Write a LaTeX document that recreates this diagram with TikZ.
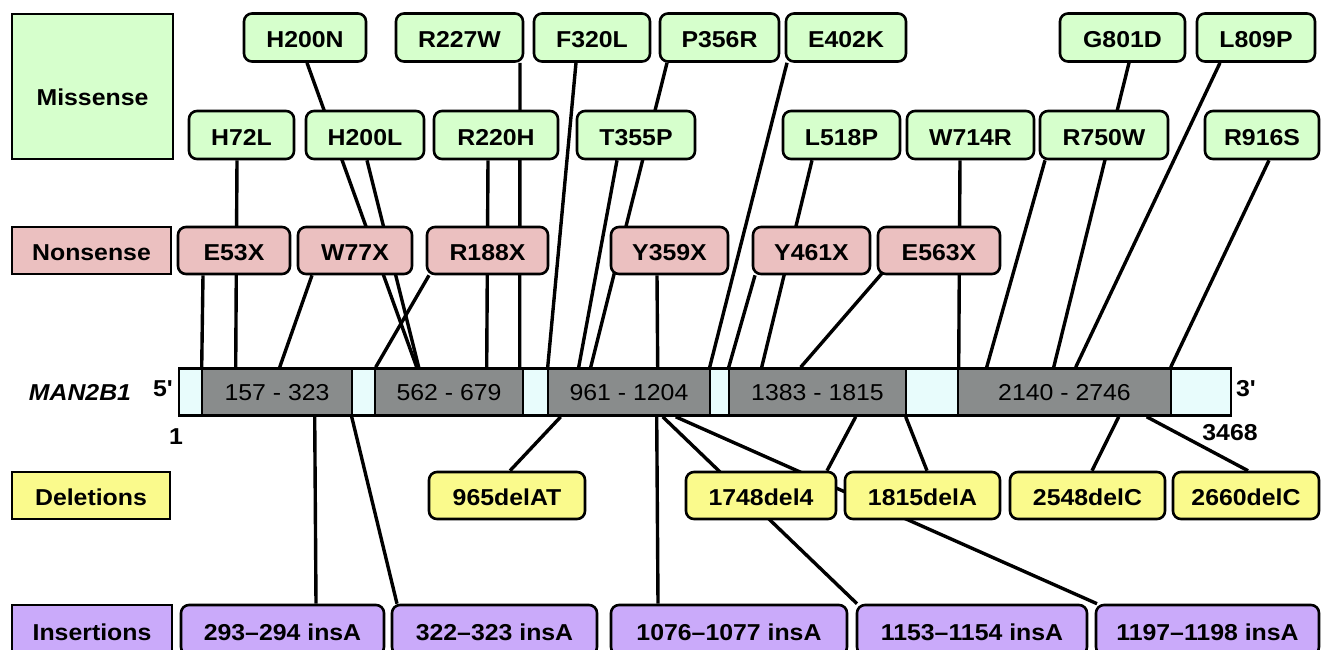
\documentclass[tikz,border=0pt]{standalone}
\usepackage{fontspec}
\newfontfamily\labfont{Liberation Sans}[FakeStretch=1.08]
\usetikzlibrary{backgrounds}
\definecolor{misc}{RGB}{214,255,204}
\definecolor{nonc}{RGB}{235,192,192}
\definecolor{delc}{RGB}{250,250,140}
\definecolor{insc}{RGB}{202,170,250}
\definecolor{exonc}{RGB}{137,140,140}
\definecolor{utrc}{RGB}{232,252,252}
\begin{document}
\begin{tikzpicture}[x=1pt,y=-1pt,
  every node/.style={font=\labfont\fontsize{23pt}{27pt}\selectfont\bfseries, inner sep=0pt},
  box/.style={draw, line width=2.6pt, rounded corners=8pt, text height=20pt, text depth=0pt},
  catbox/.style={draw, line width=2.6pt, text height=20pt, text depth=0pt},
  mis/.style={box, fill=misc, minimum height=48pt},
  non/.style={box, fill=nonc, minimum height=47pt},
  del/.style={box, fill=delc, minimum height=47pt},
  ins/.style={box, fill=insc, minimum height=50pt},
  exon/.style={draw, line width=2.6pt, fill=exonc, minimum height=47pt, text height=17pt, text depth=0pt, font=\labfont\fontsize{23pt}{27pt}\selectfont},
  utr/.style={draw, line width=2.6pt, fill=utrc, minimum height=47pt},
  link/.style={line width=3.4pt}]
\useasboundingbox (0,0) rectangle (1322,649);
\clip (0,0) rectangle (1322,649);

% category boxes
\node[catbox, fill=misc, minimum width=161pt, minimum height=145pt] (miscat) at (92.5,86.5) {};
\node (mislab) at (92.5,97) {Missense};
\node[catbox, fill=nonc, minimum width=159pt, minimum height=47pt] (noncat) at (91.5,250.5) {Nonsense};
\node[catbox, fill=delc, minimum width=158pt, minimum height=47pt] (delcat) at (91,495.5) {Deletions};
\node[catbox, fill=insc, minimum width=160pt, minimum height=50pt] (inscat) at (92,630) {Insertions};

% missense row 1
\node[mis, minimum width=122pt] (h200n) at (305,37.5) {H200N};
\node[mis, minimum width=127pt] (r227w) at (459.5,37.5) {R227W};
\node[mis, minimum width=116pt] (f320l) at (592,37.5) {F320L};
\node[mis, minimum width=119pt] (p356r) at (719.5,37.5) {P356R};
\node[mis, minimum width=120pt] (e402k) at (846,37.5) {E402K};
\node[mis, minimum width=125pt] (g801d) at (1122.5,37.5) {G801D};
\node[mis, minimum width=118pt] (l809p) at (1256,37.5) {L809P};
% missense row 2
\node[mis, minimum width=105pt] (h72l) at (241.5,135) {H72L};
\node[mis, minimum width=118pt] (h200l) at (365,135) {H200L};
\node[mis, minimum width=124pt] (r220h) at (496,135) {R220H};
\node[mis, minimum width=118pt] (t355p) at (636,135) {T355P};
\node[mis, minimum width=117pt] (l518p) at (841.5,135) {L518P};
\node[mis, minimum width=127pt] (w714r) at (970.5,135) {W714R};
\node[mis, minimum width=128pt] (r750w) at (1104,135) {R750W};
\node[mis, minimum width=114pt] (r916s) at (1262,135) {R916S};

% nonsense
\node[non, minimum width=112pt] (e53x) at (234,250.5) {E53X};
\node[non, minimum width=114pt] (w77x) at (355,250.5) {W77X};
\node[non, minimum width=121pt] (r188x) at (487.5,250.5) {R188X};
\node[non, minimum width=117pt] (y359x) at (669.5,250.5) {Y359X};
\node[non, minimum width=117pt] (y461x) at (811.5,250.5) {Y461X};
\node[non, minimum width=122pt] (e563x) at (939,250.5) {E563X};

% gene bar
\node[draw, line width=2.6pt, minimum width=1052pt, minimum height=47pt] (barbox) at (705,392) {};
\node[utr, minimum width=23pt] (s1) at (190.5,392) {};
\node[exon, minimum width=150pt] (x1) at (277,392) {157 - 323};
\node[utr, minimum width=23pt] (s2) at (363.5,392) {};
\node[exon, minimum width=148pt] (x2) at (449,392) {562 - 679};
\node[utr, minimum width=25pt] (s3) at (535.5,392) {};
\node[exon, minimum width=162pt] (x3) at (629,392) {961 - 1204};
\node[utr, minimum width=19pt] (s4) at (719.5,392) {};
\node[exon, minimum width=177pt] (x4) at (817.5,392) {1383 - 1815};
\node[utr, minimum width=52pt] (s5) at (932,392) {};
\node[exon, minimum width=213pt] (x5) at (1064.5,392) {2140 - 2746};
\node[utr, minimum width=60pt] (s6) at (1201,392) {};
\node (gene) at (80,392) {\itshape MAN2B1};
\node (five) at (163,389) {5'};
\node (three) at (1246,389) {3'};
\node (one) at (176,437) {1};
\node (last) at (1230,433) {3468};

% deletions
\node[del, minimum width=156pt] (d965) at (507,495.5) {965delAT};
\node[del, minimum width=150pt] (d1748) at (761,495.5) {1748del4};
\node[del, minimum width=155pt] (d1815) at (922.5,495.5) {1815delA};
\node[del, minimum width=155pt] (d2548) at (1087.5,495.5) {2548delC};
\node[del, minimum width=146pt] (d2660) at (1246,495.5) {2660delC};

% insertions
\node[ins, minimum width=203pt] (i293) at (282.5,630) {293–294 insA};
\node[ins, minimum width=205pt] (i322) at (494.5,630) {322–323 insA};
\node[ins, minimum width=236pt] (i1076) at (729,630) {1076–1077 insA};
\node[ins, minimum width=230pt] (i1153) at (972,630) {1153–1154 insA};
\node[ins, minimum width=223pt] (i1197) at (1207.5,630) {1197–1198 insA};

\begin{scope}[on background layer]
% missense to gene
\draw[link] ([xshift=-4.5pt]h72l.south) -- ([xshift=58pt]barbox.north west);
\draw[link] ([xshift=2pt]h200n.south) -- ([xshift=239pt]barbox.north west);
\draw[link] ([xshift=2pt]h200l.south) -- ([xshift=241pt]barbox.north west);
\draw[link] ([xshift=60.5pt]r227w.south) -- ([xshift=342pt]barbox.north west);
\draw[link] ([xshift=-8pt]r220h.south) -- ([xshift=309pt]barbox.north west);
\draw[link] ([xshift=-16pt]f320l.south) -- ([xshift=370pt]barbox.north west);
\draw[link] ([xshift=-52.5pt]p356r.south) -- ([xshift=413pt]barbox.north west);
\draw[link] ([xshift=-19pt]t355p.south) -- ([xshift=401pt]barbox.north west);
\draw[link] ([xshift=-59pt]e402k.south) -- ([xshift=532pt]barbox.north west);
\draw[link] ([xshift=-29.5pt]l518p.south) -- ([xshift=584pt]barbox.north west);
\draw[link] ([xshift=-10.5pt]w714r.south) -- ([xshift=781pt]barbox.north west);
\draw[link] ([xshift=-59pt]r750w.south) -- ([xshift=809pt]barbox.north west);
\draw[link] ([xshift=6.5pt]g801d.south) -- ([xshift=876pt]barbox.north west);
\draw[link] ([xshift=-36pt]l809p.south) -- ([xshift=898pt]barbox.north west);
\draw[link] ([xshift=7pt]r916s.south) -- ([xshift=993pt]barbox.north west);
% nonsense to gene
\draw[link] ([xshift=-31pt]e53x.south) -- ([xshift=24pt]barbox.north west);
\draw[link] ([xshift=-43pt]w77x.south) -- ([xshift=102pt]barbox.north west);
\draw[link] ([xshift=-58.5pt]r188x.south) -- ([xshift=198pt]barbox.north west);
\draw[link] ([xshift=-12.5pt]y359x.south) -- ([xshift=480pt]barbox.north west);
\draw[link] ([xshift=-56.5pt]y461x.south) -- ([xshift=551pt]barbox.north west);
\draw[link] ([xshift=-57pt,yshift=2pt]e563x.south) -- ([xshift=623pt]barbox.north west);
% gene to deletions / insertions
\draw[link] ([xshift=383pt]barbox.south west) -- ([xshift=3pt]d965.north);
\draw[link] ([xshift=137pt]barbox.south west) -- ([xshift=33.5pt]i293.north);
\draw[link] ([xshift=174pt]barbox.south west) -- ([xshift=-97.5pt]i322.north);
\draw[link] ([xshift=479pt]barbox.south west) -- ([xshift=-71pt]i1076.north);
\draw[link] ([xshift=485pt]barbox.south west) -- ([xshift=-115pt]i1153.north);
\draw[link] ([xshift=498pt]barbox.south west) -- ([xshift=-110.5pt]i1197.north);
\draw[link] ([xshift=678pt]barbox.south west) -- ([xshift=66pt]d1748.north);
\draw[link] ([xshift=728pt]barbox.south west) -- ([xshift=4.5pt]d1815.north);
\draw[link] ([xshift=941pt]barbox.south west) -- ([xshift=4.5pt]d2548.north);
\draw[link] ([xshift=969pt]barbox.south west) -- ([xshift=2pt]d2660.north);
\end{scope}
\end{tikzpicture}
\end{document}
